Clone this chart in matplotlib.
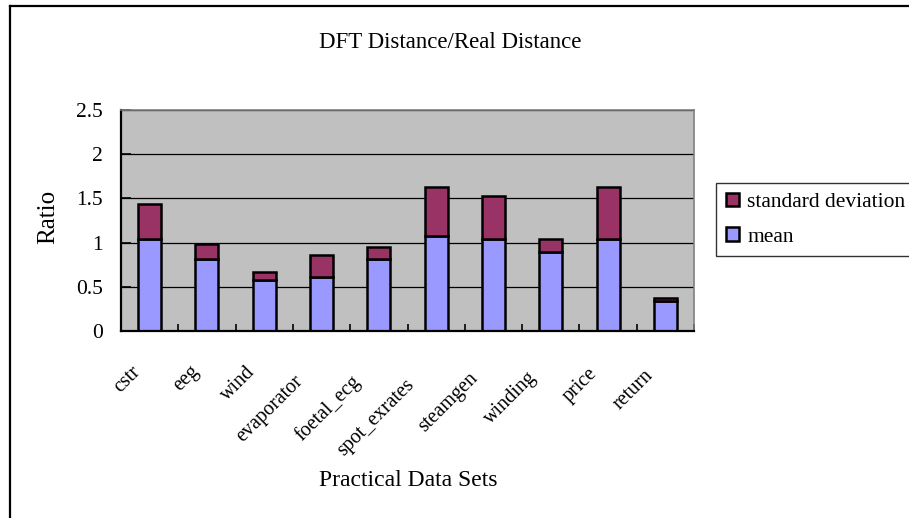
import numpy as np
import matplotlib.pyplot as plt
from matplotlib.lines import Line2D

# Data sets and ratio statistics
datasets = ['cstr', 'eeg', 'wind', 'evaporator', 'foetal_ecg', 'spot_exrates',
            'steamgen', 'winding', 'price', 'return']
mean_vals = [1.04, 0.81, 0.58, 0.61, 0.81, 1.07, 1.04, 0.89, 1.04, 0.335]
std_vals  = [0.40, 0.175, 0.09, 0.25, 0.14, 0.56, 0.49, 0.155, 0.59, 0.035]
yticks = [0, 0.5, 1, 1.5, 2, 2.5]
ytick_labels = ['0', '0.5', '1', '1.5', '2', '2.5']

plt.rcParams['font.family'] = ['Liberation Serif', 'DejaVu Serif']

fig = plt.figure(figsize=(9.09, 5.18), dpi=100)
ax = fig.add_axes([121/909, 1 - 331/518, (694-121)/909, (331-110)/518])

x = np.arange(len(datasets))
ax.set_facecolor('#C0C0C0')
ax.set_axisbelow(True)
ax.yaxis.grid(True, color='black', linewidth=0.9)

b_mean = ax.bar(x, mean_vals, width=0.4, color='#9999FF', edgecolor='black', linewidth=1.8)
b_std = ax.bar(x, std_vals, width=0.4, bottom=mean_vals, color='#993366',
               edgecolor='black', linewidth=1.8)

ax.set_xlim(-0.5, len(datasets) - 0.5)
ax.set_ylim(0, 2.5)
ax.set_yticks(yticks)
ax.set_yticklabels(ytick_labels, fontsize=15.5)

# category ticks sit between the bars
ax.set_xticks(np.arange(len(datasets) + 1) - 0.5)
ax.set_xticklabels([])
ax.tick_params(axis='x', direction='in', length=5, width=1.2)
ax.tick_params(axis='y', direction='in', length=7, width=1.2, pad=13)

# slanted category names, longer names slide a little further down-left
for i, name in enumerate(datasets):
    slide = 1.5 * (len(name) - 4)
    dx = (-19 - slide) * 0.72
    dy = (-32 - slide) * 0.72
    ax.annotate(name, xy=(i, 0), xycoords='data', xytext=(dx, dy),
                textcoords='offset points', rotation=45, rotation_mode='anchor',
                ha='right', va='top', fontsize=14.5, annotation_clip=False)

for side in ['left', 'bottom']:
    ax.spines[side].set_linewidth(1.6)
for side in ['top', 'right']:
    ax.spines[side].set_color('#808080')
    ax.spines[side].set_linewidth(1.2)

fig.text(450/909, 1 - 42/518, 'DFT Distance/Real Distance', ha='center', va='center', fontsize=16.5)
fig.text(48/909, 1 - 217/518, 'Ratio', ha='center', va='center', rotation=90, fontsize=18)
fig.text(408/909, 1 - 481/518, 'Practical Data Sets', ha='center', va='center', fontsize=17)

leg = fig.legend([b_std, b_mean], ['standard deviation', 'mean'],
                 loc='upper left', bbox_to_anchor=(716/909, 1 - 183/518),
                 fontsize=15.5, frameon=True, fancybox=False, handlelength=0.6,
                 handleheight=0.6, handletextpad=0.4, labelspacing=0.7,
                 borderpad=0.45, borderaxespad=0)
leg.get_frame().set_edgecolor('black')
leg.get_frame().set_linewidth(1.0)

# chart area border
fig.add_artist(Line2D([10/909, 10/909], [0, 1 - 6/518], color='black', linewidth=1.6))
fig.add_artist(Line2D([10/909, 1], [1 - 6/518, 1 - 6/518], color='black', linewidth=1.6))

fig.savefig('out.png', dpi=100)
